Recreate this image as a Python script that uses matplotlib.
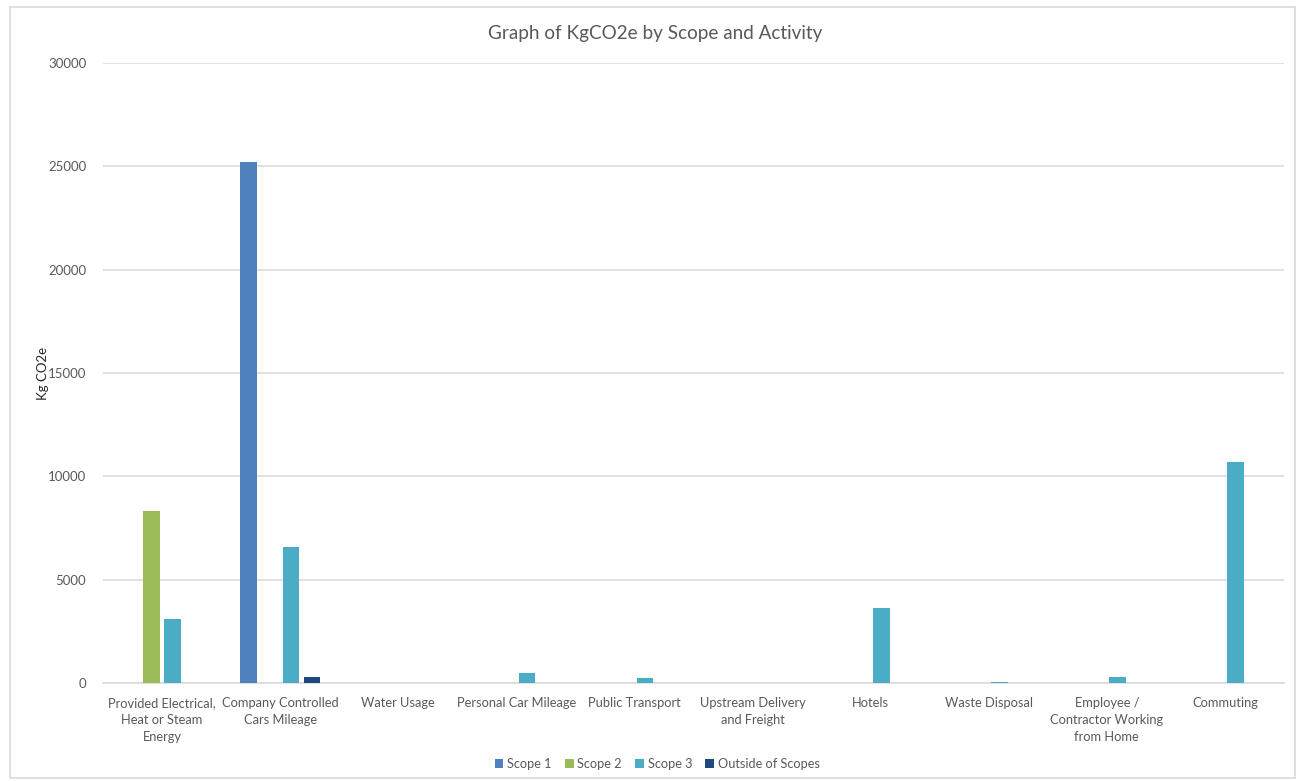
import matplotlib
matplotlib.use("Agg")
import matplotlib.pyplot as plt
from matplotlib.patches import Rectangle
import numpy as np

categories = [
    "Provided Electrical,\nHeat or Steam\nEnergy",
    "Company Controlled\nCars Mileage",
    "Water Usage",
    "Personal Car Mileage",
    "Public Transport",
    "Upstream Delivery\nand Freight",
    "Hotels",
    "Waste Disposal",
    "Employee /\nContractor Working\nfrom Home",
    "Commuting",
]
series_names = ["Scope 1", "Scope 2", "Scope 3", "Outside of Scopes"]
scope1 = [0, 25200, 0, 0, 0, 0, 0, 0, 0, 0]
scope2 = [8300, 0, 0, 0, 0, 0, 0, 0, 0, 0]
scope3 = [3100, 6600, 0, 500, 230, 0, 3650, 70, 290, 10700]
outside = [0, 270, 0, 0, 0, 0, 0, 0, 0, 0]
yticks = [0, 5000, 10000, 15000, 20000, 25000, 30000]

colors = ["#4F81BD", "#9BBB59", "#4BACC6", "#1F497D"]
txt = "#595959"
grid = "#D9D9D9"

plt.rcParams["font.family"] = ["Lato", "DejaVu Sans"]

fig = plt.figure(figsize=(13, 7.81), dpi=100)
fig.patches.append(Rectangle((10/1300, 3/781), 1285/1300, 771/781, transform=fig.transFigure,
                             fill=False, edgecolor=grid, linewidth=1.2))
ax = fig.add_axes([103/1300, 1 - 683/781, 1181/1300, 620/781])

x = np.arange(len(categories))
slot = 0.18
bw = 0.14
for i, (vals, name) in enumerate(zip([scope1, scope2, scope3, outside], series_names)):
    ax.bar(x + (i - 1.5) * slot, vals, width=bw, color=colors[i], label=name, linewidth=0, zorder=3)

ax.set_xlim(-0.5, len(categories) - 0.5)
ax.set_ylim(0, 30000)
ax.set_yticks(yticks)
ax.set_yticklabels([str(v) for v in yticks])
ax.yaxis.grid(True, color=grid, linewidth=1.1, zorder=0)
ax.set_xticks(x)
ax.set_xticklabels(categories, fontsize=9.3, color=txt, linespacing=1.5, va="top")
ax.tick_params(axis="x", length=0, pad=10)
ax.tick_params(axis="y", length=0, pad=12, labelsize=9.5, labelcolor=txt)
for s in ["top", "right", "left"]:
    ax.spines[s].set_visible(False)
ax.spines["bottom"].set_color(grid)
ax.spines["bottom"].set_linewidth(1.1)

ax.set_ylabel("Kg CO2e", fontsize=9.5, color="#262626")
ax.yaxis.set_label_coords(-0.046, 0.5)

fig.text(655/1300, 1 - 33/781, "Graph of KgCO2e by Scope and Activity", ha="center", va="center",
         fontsize=13.6, color=txt)

leg = fig.legend(loc="center", bbox_to_anchor=(657/1300, 1 - 764/781), ncol=4, frameon=False,
                 fontsize=9.2, handlelength=0.7, handleheight=0.7, handletextpad=0.3, columnspacing=1.0)
for t in leg.get_texts():
    t.set_color(txt)

fig.savefig("out.png", dpi=100)
